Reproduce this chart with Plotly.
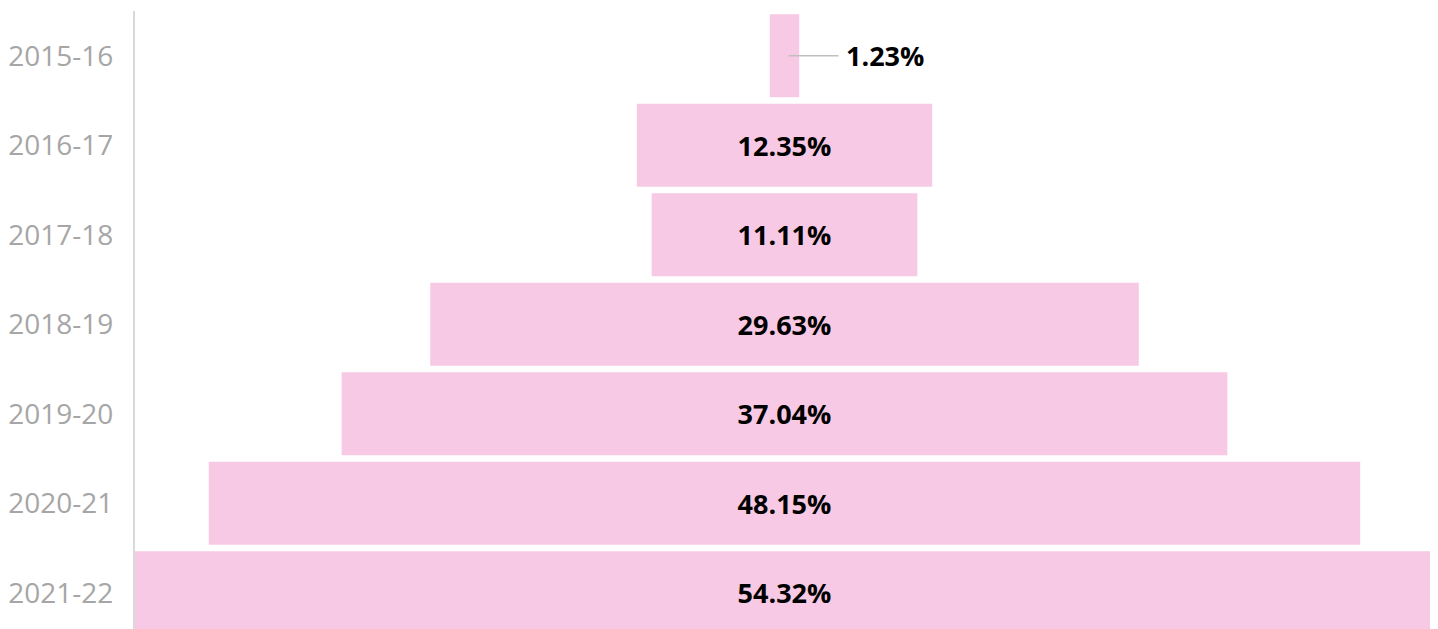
import plotly.graph_objects as go

years = ["2015-16", "2016-17", "2017-18", "2018-19", "2019-20", "2020-21", "2021-22"]
shares = [1.23, 12.35, 11.11, 29.63, 37.04, 48.15, 54.32]

labels = [f"<b>{v:.2f}%</b>" for v in shares]
# the tiny first bar gets its label outside, via an annotation with a leader line
inside_labels = [""] + labels[1:]

fig = go.Figure(go.Funnel(
    y=years,
    x=shares,
    text=inside_labels,
    textinfo="text",
    textposition="inside",
    insidetextanchor="middle",
    textfont=dict(family="Open Sans", size=27, color="black"),
    marker=dict(color="#F8C9E4", line=dict(width=0)),
    connector=dict(visible=False),
    hoverinfo="x+y",
))

fig.add_annotation(
    x=0, y=years[0], xref="x", yref="y",
    text=labels[0], showarrow=True, arrowhead=0, arrowwidth=1.5,
    arrowcolor="#BFBFBF", ax=54, ay=0, xanchor="left", standoff=4,
    borderpad=6,
    font=dict(family="Open Sans", size=27, color="black"),
)

half = max(shares) / 2
# page body adds an 8px offset, so the figure is sized/margined to compensate
fig.update_layout(
    width=1430, height=621,
    margin=dict(l=122, r=4, t=3, b=0),
    paper_bgcolor="white", plot_bgcolor="white",
    funnelgap=0.07,
    showlegend=False,
    xaxis=dict(range=[-half, half], visible=False),
    yaxis=dict(
        type="category",
        range=[6.405, -0.5],
        showline=True, linecolor="#D9D9D9", linewidth=2,
        showgrid=False, ticks="",
        ticklabelstandoff=14,
        tickfont=dict(family="Open Sans", size=28, color="#A6A6A6"),
    ),
)

fig.write_html("out.html")
